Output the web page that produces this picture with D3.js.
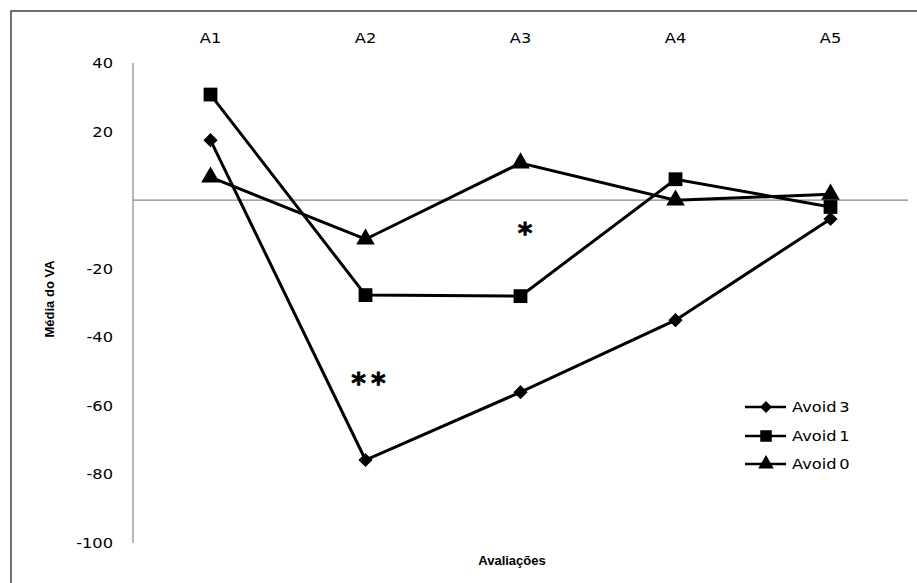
<!DOCTYPE html>
<html>
<head>
<meta charset="utf-8">
<script src="https://cdn.jsdelivr.net/npm/d3@7"></script>
<style>
  body { margin: 0; background: #fff; }
  text { font-family: "DejaVu Sans", "Open Sans", sans-serif; }
  .title { font-family: "Liberation Sans", Arial, sans-serif; }
</style>
</head>
<body>
<svg id="chart" width="917" height="583"></svg>
<script>
const categories = ["A1", "A2", "A3", "A4", "A5"];
const avoid3 = [17.5, -75.8, -56, -35, -5.5];
const avoid1 = [30.8, -27.7, -28, 6.1, -2];
const avoid0 = [6.7, -11.4, 10.8, 0, 1.7];
const seriesNames = ["Avoid 3", "Avoid 1", "Avoid 0"];
const yTicks = [40, 20, -20, -40, -60, -80, -100];

(function () {
const svg = d3.select("#chart");
svg.append("rect").attr("x", 11).attr("y", 11).attr("width", 1000).attr("height", 1000)
  .attr("fill", "#fff").attr("stroke", "#404040").attr("stroke-width", 1.5);

const pLeft = 133, pRight = 908, pTop = 63, pBottom = 543;
const x = d3.scaleBand().domain(categories).range([pLeft, pRight]);
const y = d3.scaleLinear().domain([-100, 40]).range([pBottom, pTop]);
const cx = c => x(c) + x.bandwidth() / 2;
const SX = 1.16;

// y axis line
svg.append("line").attr("x1", pLeft).attr("x2", pLeft).attr("y1", y(40)).attr("y2", y(-100))
  .attr("stroke", "#888").attr("stroke-width", 1.2);
// zero line
svg.append("line").attr("x1", pLeft).attr("x2", pRight).attr("y1", y(0)).attr("y2", y(0))
  .attr("stroke", "#888").attr("stroke-width", 1.2);

// y tick labels
svg.selectAll(".ytick").data(yTicks).enter().append("text")
  .attr("transform", d => `translate(113,${y(d)}) scale(${SX},1)`).attr("dy", "0.36em")
  .attr("text-anchor", "end").attr("font-size", 14).attr("fill", "#000")
  .text(d => d);

// category labels at top
svg.selectAll(".xcat").data(categories).enter().append("text")
  .attr("transform", d => `translate(${cx(d)},38) scale(${SX},1)`).attr("dy", "0.36em")
  .attr("text-anchor", "middle").attr("font-size", 14).attr("fill", "#000")
  .text(d => d);

// axis titles
svg.append("text").attr("class", "title").attr("transform", "translate(49,299) rotate(-90)")
  .attr("text-anchor", "middle").attr("dy", "0.36em")
  .attr("font-size", 13).attr("font-weight", "bold").text("Média do VA");
svg.append("text").attr("class", "title").attr("x", 512).attr("y", 560).attr("dy", "0.36em")
  .attr("text-anchor", "middle").attr("font-size", 13).attr("font-weight", "bold").text("Avaliações");

const line = d3.line().x((d, i) => cx(categories[i])).y(d => y(d));
const symbols = [d3.symbolSquare, d3.symbolSquare, d3.symbolTriangle];
const rots = [45, 0, 0];
const sizes = [100, 190, 150];
const data = [avoid3, avoid1, avoid0];

data.forEach((vals, s) => {
  svg.append("path").datum(vals).attr("d", line)
    .attr("fill", "none").attr("stroke", "#000").attr("stroke-width", 3);
  svg.selectAll(".m" + s).data(vals).enter().append("path")
    .attr("d", d3.symbol().type(symbols[s]).size(sizes[s]))
    .attr("transform", (d, i) => `translate(${cx(categories[i])},${y(d)}) rotate(${rots[s]})`)
    .attr("fill", "#000");
});

// significance markers
svg.append("text").attr("x", 525).attr("y", 243).attr("text-anchor", "middle")
  .attr("font-size", 28).attr("font-weight", "bold")
  .attr("stroke", "#000").attr("stroke-width", 0.8).text("*");
svg.append("text").attr("x", 371).attr("y", 393).attr("text-anchor", "middle")
  .attr("font-size", 28).attr("font-weight", "bold").attr("letter-spacing", 5)
  .attr("stroke", "#000").attr("stroke-width", 0.8).text("**");

// legend
const legY = [407, 436, 464];
seriesNames.forEach((name, s) => {
  const g = svg.append("g").attr("transform", `translate(0,${legY[s]})`);
  g.append("line").attr("x1", 745).attr("x2", 786).attr("y1", 0).attr("y2", 0)
    .attr("stroke", "#000").attr("stroke-width", 2.5);
  g.append("path").attr("d", d3.symbol().type(symbols[s]).size(sizes[s] * 0.7))
    .attr("transform", `translate(766,0) rotate(${rots[s]})`).attr("fill", "#000");
  g.append("text").attr("transform", `translate(792,0) scale(${SX},1)`).attr("dy", "0.36em")
    .attr("font-size", 14).attr("word-spacing", -2).text(name);
});
})();
</script>
</body>
</html>
